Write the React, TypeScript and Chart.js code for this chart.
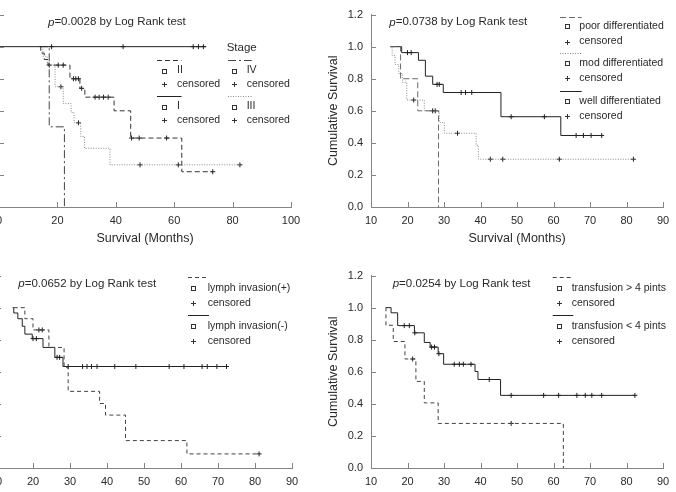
import React, { useEffect, useRef } from 'react';
import { Chart, registerables } from 'chart.js';

Chart.register(...registerables);

const FONT = "'Liberation Sans', Arial, Helvetica, sans-serif";
Chart.defaults.font.family = FONT;

// ---------------- DATA ----------------
// Panel A: Stage
const stageI_t = [0, 71];
const stageI_s = [1.0, 1.0];
const stageI_c = [18, 42.5, 66.5, 68.3, 70];
const stageII_t = [14, 14.3, 15.5, 16.8, 24.3, 27.7, 29.4, 39.4, 45.1, 62.6, 73.2];
const stageII_s = [1.0, 0.96, 0.92, 0.885, 0.8, 0.74, 0.685, 0.6, 0.43, 0.22, 0.22];
const stageII_c = [20.3, 22.0, 25.5, 26.3, 27.2, 28.3, 32.9, 34.3, 35.8, 37.4, 45.4, 48.0, 57.4, 73.2];
const stageIII_t = [14, 15, 16.5, 19.2, 22, 24.7, 25.7, 28.0, 29.3, 38, 82.5];
const stageIII_s = [1.0, 0.94, 0.885, 0.75, 0.645, 0.59, 0.525, 0.44, 0.366, 0.263, 0.263];
const stageIII_c = [17.2, 21.2, 27.2, 48.3, 61.4, 82.5];
const stageIV_t = [14, 17.2, 22.4];
const stageIV_s = [1.0, 0.5, 0.0];
const stageIV_c: number[] = [];

// Panel B: differentiation
const poor_t = [15.3, 18.1, 22.8, 28.5];
const poor_s = [1.0, 0.8, 0.6, 0.0];
const poor_c: number[] = [];
const mod_t = [15.3, 15.8, 16.6, 17.6, 18.6, 19.8, 24.6, 28.7, 30.1, 38.8, 39.4, 81.9];
const mod_s = [1.0, 0.944, 0.889, 0.833, 0.778, 0.667, 0.6, 0.528, 0.46, 0.385, 0.298, 0.298];
const mod_c = [21.7, 26.9, 27.6, 33.7, 42.7, 46.1, 61.6, 81.9];
const well_t = [15.3, 18.4, 23.0, 24.9, 26.9, 29.8, 45.6, 62.0, 73.2];
const well_s = [1.0, 0.963, 0.915, 0.816, 0.765, 0.714, 0.563, 0.446, 0.446];
const well_c = [20.0, 21.0, 28.1, 28.7, 34.7, 35.9, 37.6, 48.4, 57.5, 66.2, 68.2, 70.3, 73.2];

// Panel C: lymph invasion
const lymphPos_t = [14.8, 17.8, 20.0, 24.3, 28.4, 29.5, 38.0, 39.6, 45.0, 61.6, 81.1];
const lymphPos_s = [1.0, 0.931, 0.861, 0.752, 0.628, 0.478, 0.402, 0.33, 0.171, 0.088, 0.088];
const lymphPos_c = [21.6, 22.5, 81.1];
const lymphNeg_t = [14.5, 14.8, 15.9, 17.1, 17.8, 19.8, 22.7, 25.9, 28.1, 72.7];
const lymphNeg_s = [1.0, 0.967, 0.931, 0.884, 0.835, 0.807, 0.752, 0.69, 0.633, 0.633];
const lymphNeg_c = [20.0, 20.9, 26.5, 27.2, 29.5, 33.4, 34.6, 35.8, 37.3, 42.1, 47.8, 56.8, 60.8, 65.7, 67.1, 69.7, 72.3];

// Panel D: transfusion
const transGt_t = [14.0, 14.1, 16.1, 19.3, 22.3, 24.6, 28.4, 62.7];
const transGt_s = [1.0, 0.89, 0.789, 0.68, 0.54, 0.406, 0.278, 0.0];
const transGt_c = [21.4, 48.4];
const transLt_t = [14.1, 15.5, 17.3, 21.9, 24.6, 26.2, 28.4, 29.9, 38.5, 39.3, 45.5, 82.3];
const transLt_s = [1.0, 0.968, 0.888, 0.843, 0.783, 0.754, 0.713, 0.647, 0.602, 0.552, 0.453, 0.453];
const transLt_c = [19.1, 20.5, 22.0, 26.6, 27.4, 28.6, 32.8, 34.2, 35.3, 37.4, 42.4, 48.4, 57.3, 61.4, 66.4, 68.7, 70.5, 73.2, 82.3];

const pValues = ['0.0028', '0.0738', '0.0652', '0.0254'];
const stageLabels = ['II', 'I', 'IV', 'III'];
const diffLabels = ['poor differentiated', 'mod differentiated', 'well differentiated'];
const lymphLabels = ['lymph invasion(+)', 'lymph invasion(-)'];
const transLabels = ['transfusion > 4 pints', 'transfusion < 4 pints'];
const yTicksMax = 1.2;

// ---------------- STYLES ----------------
const AXIS = '#858585';
const TEXT = '#2a2a2a';
type LS = { color: string; dash: number[] };
const SOLID: LS = { color: '#222', dash: [] };
const DASHED: LS = { color: '#333', dash: [5, 3] };
const DASHED_GRAY: LS = { color: '#6a6a6a', dash: [6, 3] };
const DASHED_C: LS = { color: '#444', dash: [4, 3] };
const DOTTED: LS = { color: '#8a8a8a', dash: [1, 1.5] };
const DASHDOT: LS = { color: '#444', dash: [8, 3, 2, 3] };

type Series = { t: number[]; s: number[]; c: number[]; style: LS };

function survAt(ts: number[], ss: number[], t: number) {
  let v = ss[0];
  for (let i = 0; i < ts.length; i++) if (ts[i] <= t + 1e-9) v = ss[i];
  return v;
}

type Block = { style: LS; label: string; dy: number };
type Column = { x0: number; x1: number; mx: number; tx: number; blocks: Block[] };
type PanelCfg = {
  L: number; T: number; R: number; B: number;
  xMin: number; xMax: number; xStep: number;
  series: Series[];
  p: string; pPos: [number, number];
  title?: { text: string; dx: number; dy: number };
  columns: Column[];
  labelOff: number; censOff: number;
};

const YW = 45;
const PAD_T = 13;
const PAD_R = 20;
const XH = 39;

const kmLegend = {
  id: 'kmLegend',
  afterDraw(chart: any) {
    const cfg: PanelCfg = chart.options.plugins.kmLegend.cfg;
    const { ctx, chartArea, scales } = chart;
    const L = chartArea.left, T = chartArea.top;
    ctx.save();
    // inward ticks
    ctx.strokeStyle = AXIS;
    ctx.lineWidth = 1;
    ctx.setLineDash([]);
    const xs = scales.x, ys = scales.y;
    xs.ticks.forEach((_: any, i: number) => {
      const px = Math.round(xs.getPixelForTick(i)) + 0.5;
      ctx.beginPath();
      ctx.moveTo(px, chartArea.bottom);
      ctx.lineTo(px, chartArea.bottom - 5);
      ctx.stroke();
    });
    ys.ticks.forEach((_: any, i: number) => {
      const py = Math.round(ys.getPixelForTick(i)) + 0.5;
      ctx.beginPath();
      ctx.moveTo(chartArea.left, py);
      ctx.lineTo(chartArea.left + 5, py);
      ctx.stroke();
    });
    // p-value text
    ctx.fillStyle = TEXT;
    ctx.textBaseline = 'middle';
    ctx.textAlign = 'left';
    const px = L + cfg.pPos[0], py = T + cfg.pPos[1];
    ctx.font = `italic 11.5px ${FONT}`;
    ctx.fillText('p', px, py);
    const w = ctx.measureText('p').width;
    ctx.font = `11.5px ${FONT}`;
    ctx.fillText('=' + cfg.p + ' by Log Rank test', px + w, py);
    // legend
    ctx.font = `10.5px ${FONT}`;
    if (cfg.title) {
      ctx.font = `11.5px ${FONT}`;
      ctx.fillText(cfg.title.text, L + cfg.title.dx, T + cfg.title.dy);
      ctx.font = `10.5px ${FONT}`;
    }
    cfg.columns.forEach((col) => {
      col.blocks.forEach((b) => {
        const y0 = Math.round(T + b.dy) + 0.5;
        ctx.strokeStyle = b.style.color;
        ctx.setLineDash(b.style.dash);
        ctx.beginPath();
        ctx.moveTo(L + col.x0, y0);
        ctx.lineTo(L + col.x1, y0);
        ctx.stroke();
        ctx.setLineDash([]);
        ctx.strokeStyle = '#333';
        const yl = T + b.dy + cfg.labelOff;
        const mx = Math.round(L + col.mx);
        ctx.strokeRect(mx - 1.5, Math.round(yl) - 1.5, 4, 4);
        ctx.fillText(b.label, L + col.tx, yl);
        const yc = T + b.dy + cfg.censOff;
        const cy = Math.round(yc) + 0.5;
        ctx.beginPath();
        ctx.moveTo(mx - 2, cy);
        ctx.lineTo(mx + 3, cy);
        ctx.moveTo(mx + 0.5, cy - 2.5);
        ctx.lineTo(mx + 0.5, cy + 2.5);
        ctx.stroke();
        ctx.fillText('censored', L + col.tx, yc);
      });
    });
    ctx.restore();
  },
};

function buildDatasets(series: Series[]) {
  const ds: any[] = [];
  series.forEach((se) => {
    ds.push({
      type: 'line',
      data: se.t.map((t, i) => ({ x: t, y: se.s[i] })),
      stepped: 'before',
      borderColor: se.style.color,
      borderDash: se.style.dash,
      borderWidth: 1,
      pointRadius: 0,
      fill: false,
    });
    ds.push({
      type: 'scatter',
      data: se.c.map((t) => ({ x: t, y: survAt(se.t, se.s, t) })),
      pointStyle: 'cross',
      pointRadius: 2.5,
      borderColor: '#222',
      borderWidth: 1,
      showLine: false,
    });
  });
  return ds;
}

function Panel({ cfg }: { cfg: PanelCfg }) {
  const ref = useRef<HTMLCanvasElement>(null);
  const left = cfg.L - YW;
  const top = cfg.T - PAD_T;
  const width = cfg.R + PAD_R - left;
  const height = cfg.B + XH - top;
  useEffect(() => {
    const chart = new Chart(ref.current as HTMLCanvasElement, {
      type: 'line',
      data: { datasets: buildDatasets(cfg.series) },
      plugins: [kmLegend],
      options: {
        responsive: false,
        maintainAspectRatio: false,
        animation: false,
        devicePixelRatio: 1,
        layout: { padding: { left: 0, top: PAD_T, right: PAD_R, bottom: 0 } },
        plugins: {
          legend: { display: false },
          tooltip: { enabled: false },
          kmLegend: { cfg },
        } as any,
        scales: {
          x: {
            type: 'linear',
            min: cfg.xMin,
            max: cfg.xMax,
            afterFit: (s: any) => { s.height = XH; },
            grid: { display: false, drawTicks: false },
            border: { display: true, color: AXIS, width: 1 },
            ticks: { stepSize: cfg.xStep, padding: 7, color: TEXT, font: { size: 11 }, maxRotation: 0, autoSkip: false },
            title: { display: true, text: 'Survival (Months)', color: TEXT, font: { size: 12.5 }, padding: 0 },
          },
          y: {
            type: 'linear',
            min: 0,
            max: yTicksMax,
            afterFit: (s: any) => { s.width = YW; },
            grid: { display: false, drawTicks: false },
            border: { display: true, color: AXIS, width: 1 },
            ticks: { stepSize: 0.2, padding: 8, color: TEXT, font: { size: 11 }, callback: (v: any) => Number(v).toFixed(1) },
            title: { display: true, text: 'Cumulative Survival', color: TEXT, font: { size: 12.5 }, padding: 0 },
          },
        },
      } as any,
    });
    return () => chart.destroy();
  }, []);
  return (
    <canvas
      ref={ref}
      width={width}
      height={height}
      style={{ position: 'absolute', left, top, width, height }}
    />
  );
}

const panels: PanelCfg[] = [
  {
    L: -1, T: 13, R: 291, B: 207, xMin: 0, xMax: 100, xStep: 20,
    series: [
      { t: stageI_t, s: stageI_s, c: stageI_c, style: SOLID },
      { t: stageII_t, s: stageII_s, c: stageII_c, style: DASHED },
      { t: stageIII_t, s: stageIII_s, c: stageIII_c, style: DOTTED },
      { t: stageIV_t, s: stageIV_s, c: stageIV_c, style: DASHDOT },
    ],
    p: pValues[0], pPos: [49, 7.7],
    title: { text: 'Stage', dx: 227.7, dy: 33.7 },
    columns: [
      { x0: 158, x1: 182.5, mx: 165, tx: 178, blocks: [
        { style: DASHED, label: stageLabels[0], dy: 45.3 },
        { style: SOLID, label: stageLabels[1], dy: 81.3 },
      ] },
      { x0: 229, x1: 252.7, mx: 235, tx: 247.7, blocks: [
        { style: DASHDOT, label: stageLabels[2], dy: 45.3 },
        { style: DOTTED, label: stageLabels[3], dy: 81.3 },
      ] },
    ],
    labelOff: 10.7, censOff: 24,
  },
  {
    L: 371, T: 13, R: 663, B: 207, xMin: 10, xMax: 90, xStep: 10,
    series: [
      { t: poor_t, s: poor_s, c: poor_c, style: DASHED_GRAY },
      { t: mod_t, s: mod_s, c: mod_c, style: DOTTED },
      { t: well_t, s: well_s, c: well_c, style: SOLID },
    ],
    p: pValues[1], pPos: [18.3, 7.7],
    columns: [
      { x0: 189, x1: 210.7, mx: 195.7, tx: 208.3, blocks: [
        { style: DASHED_GRAY, label: diffLabels[0], dy: 2 },
        { style: DOTTED, label: diffLabels[1], dy: 38.7 },
        { style: SOLID, label: diffLabels[2], dy: 76.3 },
      ] },
    ],
    labelOff: 9.8, censOff: 25,
  },
  {
    L: -4, T: 274, R: 292, B: 468, xMin: 10, xMax: 90, xStep: 10,
    series: [
      { t: lymphPos_t, s: lymphPos_s, c: lymphPos_c, style: DASHED_C },
      { t: lymphNeg_t, s: lymphNeg_s, c: lymphNeg_c, style: SOLID },
    ],
    p: pValues[2], pPos: [22.3, 8.3],
    columns: [
      { x0: 192, x1: 213, mx: 197.3, tx: 211.7, blocks: [
        { style: DASHED_C, label: lymphLabels[0], dy: 1.7 },
        { style: SOLID, label: lymphLabels[1], dy: 39.3 },
      ] },
    ],
    labelOff: 11, censOff: 26,
  },
  {
    L: 371, T: 274, R: 663, B: 468, xMin: 10, xMax: 90, xStep: 10,
    series: [
      { t: transGt_t, s: transGt_s, c: transGt_c, style: DASHED_C },
      { t: transLt_t, s: transLt_s, c: transLt_c, style: SOLID },
    ],
    p: pValues[3], pPos: [21.7, 8.3],
    columns: [
      { x0: 181.7, x1: 202.3, mx: 188.3, tx: 200.7, blocks: [
        { style: DASHED_C, label: transLabels[0], dy: 1.7 },
        { style: SOLID, label: transLabels[1], dy: 39.3 },
      ] },
    ],
    labelOff: 11, censOff: 26,
  },
];

export default function App() {
  return (
    <div style={{ position: 'absolute', left: 0, top: 0, width: 676, height: 492, overflow: 'hidden', background: '#fff' }}>
      {panels.map((p, i) => (
        <Panel key={i} cfg={p} />
      ))}
    </div>
  );
}
